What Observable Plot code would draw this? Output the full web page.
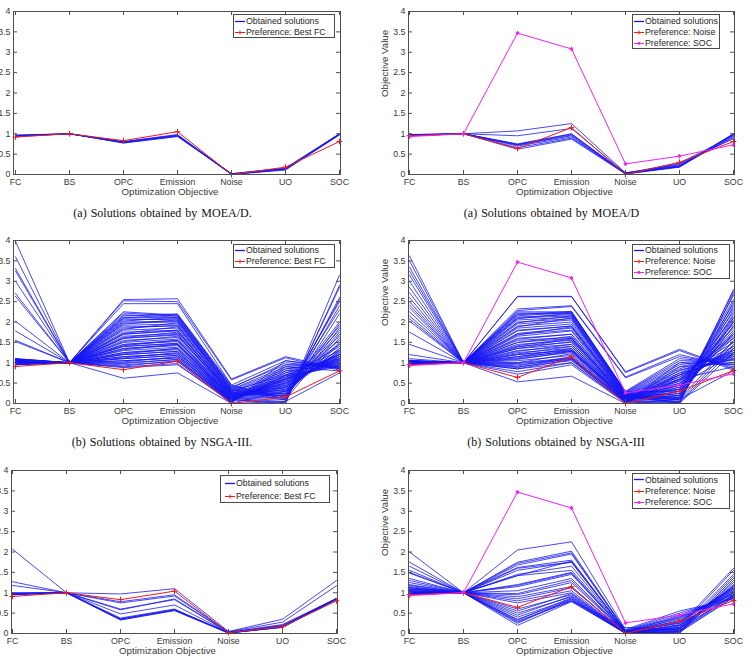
<!DOCTYPE html>
<html>
<head>
<meta charset="utf-8">
<script src="https://cdn.jsdelivr.net/npm/d3@7"></script>
<script src="https://cdn.jsdelivr.net/npm/@observablehq/plot@0.6"></script>
<style>
  html, body { margin: 0; padding: 0; background: #fff; }
  #fig { position: relative; width: 754px; height: 667px; overflow: hidden; background: #fff; }
  .panel { position: absolute; width: 377px; }
  .legend { position: absolute; background: #fff; border: 1px solid #4a4a4a; box-sizing: border-box;
            font: 8.8px "Liberation Sans", Arial, sans-serif; color: #262626; }
  .legend .row { position: absolute; height: 11px; display: flex; align-items: center; white-space: nowrap; }
  .legend svg { display: block; margin-right: 1px; overflow: visible; }
  .caption { position: absolute; font: 12px "Liberation Serif", "Times New Roman", serif; word-spacing: 1px;
             color: #111; white-space: nowrap; transform: translate(-50%, -50%); }
</style>
</head>
<body>
<div id="fig"></div>
<script>
// Objective axes and value ticks shared by all six parallel-coordinate panels
const objectives = ["FC", "BS", "OPC", "Emission", "Noise", "UO", "SOC"];
const yTicks = [0, 0.5, 1, 1.5, 2, 2.5, 3, 3.5, 4];

// Preference solutions (one value per objective)
const prefBestFcMoead = [0.92, 1.0, 0.83, 1.05, 0.0, 0.18, 0.81];
const prefBestFcNsga  = [0.91, 1.0, 0.83, 1.04, 0.0, 0.16, 0.80];
const prefBestFcThird = [0.91, 1.0, 0.83, 1.04, 0.02, 0.17, 0.80];
const prefNoise = [0.95, 1.0, 0.64, 1.15, 0.0, 0.30, 0.81];
const prefSoc   = [0.93, 1.0, 3.47, 3.08, 0.26, 0.45, 0.73];

// MOEA/D, best-FC run
const moeadFcSolutions = [
  [0.96, 1, 0.79, 0.96, 0.01, 0.13, 0.99],
  [0.95, 1, 0.80, 0.97, 0.00, 0.14, 1.00],
  [0.94, 1, 0.78, 0.94, 0.01, 0.12, 0.98],
  [0.97, 1, 0.81, 0.98, 0.02, 0.15, 0.99],
  [0.93, 1, 0.79, 0.95, 0.00, 0.11, 0.97],
  [0.95, 1, 0.77, 0.93, 0.02, 0.16, 1.00]
];

// MOEA/D, Noise / SOC preference run
const moeadNsSolutions = [
  [0.97, 1, 1.07, 1.25, 0.04, 0.22, 0.98],
  [0.98, 1, 0.95, 1.13, 0.03, 0.28, 0.95],
  [0.96, 1, 0.74, 0.99, 0.02, 0.19, 1.00],
  [0.97, 1, 0.73, 0.97, 0.03, 0.20, 0.98],
  [0.95, 1, 0.72, 0.95, 0.01, 0.18, 0.96],
  [0.96, 1, 0.70, 0.92, 0.02, 0.21, 0.93],
  [0.98, 1, 0.66, 0.89, 0.04, 0.24, 0.90],
  [0.95, 1, 0.62, 0.87, 0.01, 0.26, 0.88],
  [0.97, 1, 0.75, 1.00, 0.03, 0.19, 1.00]
];

// NSGA-III, best-FC run
const nsgaFcSolutions = [
  [3.98, 1, 1.20, 1.28, 0.10, 0.55, 1.10],
  [3.60, 1, 1.05, 1.12, 0.05, 0.70, 0.95],
  [3.31, 1, 1.35, 1.45, 0.12, 0.45, 1.20],
  [3.25, 1, 0.98, 1.08, 0.03, 0.80, 0.90],
  [3.00, 1, 1.45, 1.55, 0.15, 0.35, 1.35],
  [2.70, 1, 1.15, 1.22, 0.08, 0.60, 1.05],
  [2.63, 1, 1.60, 1.70, 0.20, 0.25, 1.50],
  [2.02, 1, 1.25, 1.35, 0.10, 0.50, 1.15],
  [1.78, 1, 1.70, 1.80, 0.22, 0.20, 1.60],
  [1.55, 1, 1.10, 1.18, 0.06, 0.65, 1.00],
  [1.52, 1, 1.40, 1.48, 0.14, 0.40, 1.25],
  [1.05, 1, 2.55, 2.57, 0.60, 1.15, 0.85],
  [1.08, 1, 2.52, 2.50, 0.58, 1.12, 0.82],
  [1.02, 1, 2.45, 2.45, 0.45, 1.05, 0.90],
  [1.10, 1, 2.25, 2.17, 0.40, 0.95, 0.95],
  [1.00, 1, 2.22, 2.15, 0.38, 1.00, 0.88],
  [1.06, 1, 2.18, 2.12, 0.35, 0.90, 1.00],
  [0.98, 1, 2.12, 2.10, 0.33, 0.85, 1.05],
  [1.04, 1, 2.08, 2.05, 0.30, 0.80, 1.10],
  [1.01, 1, 2.05, 2.08, 0.28, 0.75, 1.15],
  [1.07, 1, 2.00, 2.02, 0.30, 0.70, 1.20],
  [0.99, 1, 1.97, 2.00, 0.26, 0.65, 1.30],
  [1.03, 1, 1.92, 1.95, 0.25, 0.60, 1.40],
  [1.09, 1, 1.88, 1.90, 0.24, 0.55, 1.45],
  [0.97, 1, 1.85, 1.92, 0.22, 0.50, 1.55],
  [1.02, 1, 1.80, 1.85, 0.21, 0.45, 1.65],
  [1.05, 1, 1.75, 1.80, 0.20, 0.40, 1.80],
  [1.00, 1, 1.70, 1.78, 0.18, 0.35, 1.90],
  [1.08, 1, 1.65, 1.72, 0.17, 0.30, 2.00],
  [0.96, 1, 1.60, 1.68, 0.16, 0.25, 2.30],
  [1.03, 1, 1.55, 1.62, 0.15, 0.20, 2.50],
  [1.06, 1, 1.50, 1.58, 0.14, 0.15, 2.55],
  [0.98, 1, 1.45, 1.52, 0.13, 0.10, 2.60],
  [1.01, 1, 1.40, 1.47, 0.12, 0.05, 2.85],
  [1.04, 1, 1.35, 1.42, 0.10, 0.02, 2.90],
  [0.99, 1, 1.30, 1.38, 0.09, 0.00, 3.15],
  [1.07, 1, 1.25, 1.32, 0.08, 0.60, 1.20],
  [0.95, 1, 1.20, 1.28, 0.07, 0.70, 1.10],
  [1.02, 1, 1.15, 1.22, 0.06, 0.75, 1.05],
  [1.05, 1, 1.10, 1.18, 0.05, 0.85, 0.98],
  [0.97, 1, 1.05, 1.12, 0.04, 0.95, 0.92],
  [1.00, 1, 1.00, 1.08, 0.03, 1.05, 0.85],
  [1.08, 1, 0.95, 1.03, 0.02, 0.90, 0.80],
  [0.96, 1, 0.90, 0.98, 0.01, 0.30, 1.30],
  [1.03, 1, 0.62, 0.75, 0.00, 0.05, 0.75],
  [1.10, 1, 2.15, 2.20, 0.45, 0.10, 1.70],
  [1.02, 1, 2.10, 2.18, 0.42, 0.15, 1.85],
  [0.98, 1, 2.02, 2.12, 0.38, 0.12, 2.20],
  [1.06, 1, 1.95, 2.05, 0.35, 0.08, 2.40],
  [1.01, 1, 1.82, 1.98, 0.32, 0.22, 1.75],
  [1.04, 1, 1.72, 1.88, 0.28, 0.18, 1.95],
  [0.97, 1, 1.62, 1.75, 0.26, 0.28, 1.45],
  [1.09, 1, 1.52, 1.65, 0.24, 0.32, 1.35],
  [1.00, 1, 1.42, 1.55, 0.20, 0.38, 1.28],
  [1.05, 1, 1.32, 1.45, 0.18, 0.42, 1.22],
  [0.99, 1, 1.22, 1.35, 0.15, 0.48, 1.15],
  [1.03, 1, 1.12, 1.25, 0.12, 0.52, 1.08],
  [1.07, 1, 1.02, 1.15, 0.10, 0.58, 1.02],
  [0.98, 1, 0.92, 1.05, 0.08, 0.62, 0.95],
  [1.02, 1, 0.88, 0.95, 0.05, 0.68, 0.90]
];

// NSGA-III, Noise / SOC preference run
const nsgaNsSolutions = [
  [3.62, 1, 1.20, 1.30, 0.10, 0.20, 1.90],
  [3.50, 1, 1.10, 1.25, 0.08, 0.30, 1.70],
  [3.35, 1, 1.30, 1.40, 0.12, 0.15, 2.10],
  [3.25, 1, 1.05, 1.18, 0.06, 0.40, 1.50],
  [3.15, 1, 1.40, 1.50, 0.14, 0.10, 2.30],
  [3.00, 1, 0.98, 1.10, 0.05, 0.50, 1.40],
  [2.85, 1, 1.50, 1.60, 0.15, 0.05, 2.50],
  [2.72, 1, 1.15, 1.28, 0.09, 0.35, 1.80],
  [2.60, 1, 1.60, 1.70, 0.18, 0.00, 2.70],
  [2.50, 1, 0.90, 1.05, 0.04, 0.60, 1.30],
  [2.42, 1, 1.25, 1.35, 0.11, 0.25, 2.00],
  [2.35, 1, 1.70, 1.80, 0.20, 0.02, 2.80],
  [2.25, 1, 1.35, 1.45, 0.13, 0.45, 1.60],
  [2.15, 1, 0.85, 1.00, 0.03, 0.70, 1.20],
  [2.08, 1, 1.45, 1.55, 0.16, 0.12, 2.20],
  [2.02, 1, 1.00, 1.12, 0.07, 0.55, 1.35],
  [1.75, 1, 1.80, 1.90, 0.22, 0.08, 2.40],
  [1.45, 1, 1.20, 1.32, 0.10, 0.65, 1.25],
  [1.20, 1, 1.55, 1.62, 0.17, 0.18, 2.05],
  [1.10, 1, 0.95, 1.08, 0.05, 0.75, 1.10],
  [1.05, 1, 2.63, 2.63, 0.78, 1.33, 0.85],
  [1.02, 1, 2.62, 2.62, 0.76, 1.30, 0.82],
  [1.00, 1, 2.32, 2.40, 0.65, 1.20, 0.90],
  [1.04, 1, 2.28, 2.38, 0.63, 1.15, 0.95],
  [0.98, 1, 2.25, 2.25, 0.30, 1.10, 1.00],
  [1.03, 1, 2.22, 2.22, 0.28, 1.05, 1.05],
  [1.01, 1, 2.20, 2.20, 0.27, 1.00, 1.10],
  [0.99, 1, 2.15, 2.24, 0.25, 0.95, 1.15],
  [1.06, 1, 2.12, 2.18, 0.24, 0.90, 1.20],
  [1.00, 1, 2.10, 2.15, 0.22, 0.85, 1.25],
  [1.02, 1, 2.05, 2.12, 0.21, 0.80, 1.30],
  [0.97, 1, 2.00, 2.08, 0.20, 0.75, 1.40],
  [1.04, 1, 1.95, 2.05, 0.19, 0.70, 1.50],
  [1.01, 1, 1.90, 2.00, 0.18, 0.65, 1.60],
  [0.98, 1, 1.85, 1.95, 0.17, 0.60, 1.70],
  [1.03, 1, 1.78, 1.90, 0.16, 0.55, 1.85],
  [1.00, 1, 1.72, 1.85, 0.15, 0.50, 1.95],
  [1.05, 1, 1.65, 1.78, 0.14, 0.45, 2.10],
  [0.99, 1, 1.58, 1.70, 0.13, 0.40, 2.25],
  [1.02, 1, 1.50, 1.65, 0.12, 0.35, 2.35],
  [0.97, 1, 1.42, 1.60, 0.11, 0.30, 2.45],
  [1.04, 1, 1.35, 1.52, 0.10, 0.25, 2.55],
  [1.01, 1, 1.28, 1.45, 0.09, 0.20, 2.65],
  [0.98, 1, 1.22, 1.40, 0.08, 0.15, 2.75],
  [1.03, 1, 1.15, 1.35, 0.07, 0.10, 1.55],
  [1.00, 1, 1.08, 1.28, 0.06, 0.05, 1.45],
  [1.02, 1, 1.00, 1.22, 0.05, 0.02, 1.35],
  [0.99, 1, 0.92, 1.15, 0.04, 0.00, 1.25],
  [1.01, 1, 0.85, 1.08, 0.03, 0.90, 1.00],
  [1.03, 1, 0.78, 1.00, 0.02, 1.00, 0.95],
  [0.98, 1, 0.72, 0.95, 0.01, 0.60, 0.90],
  [1.00, 1, 0.53, 0.67, 0.00, 0.10, 0.80],
  [1.05, 1, 2.18, 2.26, 0.29, 0.30, 1.75],
  [0.96, 1, 2.08, 2.22, 0.26, 0.20, 1.90],
  [1.03, 1, 1.98, 2.15, 0.23, 0.12, 2.00],
  [1.00, 1, 1.88, 2.10, 0.20, 0.35, 2.15],
  [1.04, 1, 1.68, 1.88, 0.16, 0.58, 1.65],
  [0.99, 1, 1.38, 1.58, 0.12, 0.70, 1.15],
  [1.02, 1, 1.12, 1.30, 0.08, 0.82, 1.08],
  [0.97, 1, 0.88, 1.12, 0.05, 0.45, 1.20]
];

// Third algorithm, best-FC run
const thirdFcSolutions = [
  [0.98, 1, 0.97, 1.10, 0.05, 0.35, 1.30],
  [1.27, 1, 0.78, 0.95, 0.04, 0.28, 1.17],
  [2.07, 1, 0.60, 0.83, 0.03, 0.22, 0.86],
  [1.18, 1, 0.48, 0.70, 0.02, 0.20, 0.85],
  [0.96, 1, 0.75, 0.92, 0.03, 0.18, 0.84],
  [0.99, 1, 0.38, 0.60, 0.01, 0.16, 0.85],
  [0.97, 1, 0.36, 0.58, 0.02, 0.15, 0.84],
  [1.00, 1, 0.34, 0.57, 0.01, 0.17, 0.86],
  [0.95, 1, 0.35, 0.59, 0.02, 0.16, 0.83],
  [0.98, 1, 0.33, 0.56, 0.01, 0.15, 0.85],
  [0.96, 1, 0.58, 0.85, 0.02, 0.19, 0.86]
];

// Third algorithm, Noise / SOC preference run
const thirdNsSolutions = [
  [1.05, 1, 2.05, 2.25, 0.10, 0.55, 0.85],
  [1.10, 1, 1.75, 2.02, 0.08, 0.50, 0.90],
  [1.00, 1, 1.72, 1.98, 0.07, 0.45, 0.95],
  [1.15, 1, 1.68, 1.95, 0.06, 0.40, 1.00],
  [0.98, 1, 1.62, 1.80, 0.05, 0.35, 1.05],
  [1.20, 1, 1.55, 1.75, 0.05, 0.30, 1.10],
  [1.02, 1, 1.45, 1.65, 0.04, 0.25, 1.15],
  [2.00, 1, 1.42, 1.55, 0.04, 0.20, 1.60],
  [1.75, 1, 1.20, 1.50, 0.03, 0.15, 1.55],
  [1.65, 1, 1.15, 1.45, 0.03, 0.10, 1.45],
  [1.55, 1, 1.05, 1.35, 0.02, 0.05, 1.40],
  [1.50, 1, 0.95, 1.25, 0.02, 0.02, 1.35],
  [1.48, 1, 0.90, 1.15, 0.01, 0.00, 1.30],
  [1.35, 1, 0.80, 1.05, 0.01, 0.10, 1.25],
  [1.30, 1, 0.75, 1.00, 0.02, 0.12, 1.20],
  [1.25, 1, 0.60, 0.95, 0.01, 0.15, 1.15],
  [1.18, 1, 0.50, 0.90, 0.00, 0.18, 1.10],
  [1.12, 1, 0.40, 0.85, 0.01, 0.20, 1.05],
  [1.08, 1, 0.35, 0.82, 0.00, 0.22, 1.00],
  [1.03, 1, 0.30, 0.80, 0.01, 0.08, 0.95],
  [0.99, 1, 0.25, 0.85, 0.00, 0.05, 0.90],
  [0.97, 1, 0.20, 0.78, 0.01, 0.03, 0.88],
  [1.06, 1, 1.18, 1.48, 0.03, 0.28, 1.12],
  [1.01, 1, 0.98, 1.30, 0.02, 0.32, 1.08],
  [0.96, 1, 0.85, 1.12, 0.02, 0.38, 0.98],
  [1.09, 1, 1.42, 1.78, 0.04, 0.26, 0.92],
  [1.04, 1, 0.55, 0.98, 0.01, 0.14, 1.02],
  [0.98, 1, 0.33, 0.88, 0.00, 0.06, 1.18],
  [1.13, 1, 1.60, 1.75, 0.05, 0.42, 0.87],
  [1.00, 1, 0.45, 0.92, 0.02, 0.12, 0.95],
  [0.96, 1, 0.28, 0.80, 0.15, 0.08, 0.93]
];

// Text
const xLabel = "Optimization Objective";
const yLabel = "Objective Value";
const legendSolutions = "Obtained solutions";
const legendBestFc = "Preference: Best FC";
const legendNoise = "Preference: Noise";
const legendSoc = "Preference: SOC";
const captions = [
  "(a) Solutions obtained by MOEA/D.",
  "(a) Solutions obtained by MOEA/D",
  "(b) Solutions obtained by NSGA-III.",
  "(b) Solutions obtained by NSGA-III"
];

// Styling
const BLUE = "#1616f2", RED = "#f01a1a", MAGENTA = "#f022f0", AXIS = "#4f4f4f", TEXT = "#3a3a3a";
const FONT = '"Liberation Sans", Arial, Helvetica, sans-serif';

function toLong(rows, prefix) {
  const out = [];
  rows.forEach((r, i) => r.forEach((v, j) => out.push({id: prefix + i, obj: objectives[j], v})));
  return out;
}

const fcPref = (values) => [{values, color: RED, symbol: "plus", label: legendBestFc}];
const nsPref = [
  {values: prefNoise, color: RED, symbol: "plus", label: legendNoise},
  {values: prefSoc, color: MAGENTA, symbol: "asterisk", label: legendSoc}
];

const panels = [
  {col: 0, frame: {left: 13, right: 340, top: 11, bottom: 174}, solutions: moeadFcSolutions,
   prefs: fcPref(prefBestFcMoead), ylabel: false,
   legend: {left: 233, top: 14, width: 102, height: 24, pad: 2, rows: [7, 18.3]},
   caption: {text: captions[0], x: 162.5, y: 213}},
  {col: 377, frame: {left: 408, right: 734, top: 11, bottom: 174}, solutions: moeadNsSolutions,
   prefs: nsPref, ylabel: true,
   legend: {left: 632, top: 14, width: 88, height: 35, pad: 2, rows: [7, 18.3, 29.3]},
   caption: {text: captions[1], x: 551.5, y: 213}},
  {col: 0, frame: {left: 13, right: 340, top: 240, bottom: 403}, solutions: nsgaFcSolutions,
   prefs: fcPref(prefBestFcNsga), ylabel: false,
   legend: {left: 233, top: 244, width: 102, height: 24, pad: 2, rows: [6.4, 17.4]},
   caption: {text: captions[2], x: 162, y: 442}},
  {col: 377, frame: {left: 408, right: 734, top: 240, bottom: 403}, solutions: nsgaNsSolutions,
   prefs: nsPref, ylabel: true,
   legend: {left: 632, top: 244, width: 98, height: 35, pad: 2, rows: [6.4, 17.4, 28.4]},
   caption: {text: captions[3], x: 556, y: 442}},
  {col: 0, frame: {left: 11, right: 337, top: 470, bottom: 633}, solutions: thirdFcSolutions,
   prefs: fcPref(prefBestFcThird), ylabel: false,
   legend: {left: 220, top: 475, width: 110, height: 28, pad: 5, rows: [8, 21.3]},
   caption: null},
  {col: 377, frame: {left: 408, right: 734, top: 470, bottom: 633}, solutions: thirdNsSolutions,
   prefs: nsPref, ylabel: true,
   legend: {left: 632, top: 473, width: 98, height: 36, pad: 2, rows: [6.7, 18.4, 29.4]},
   caption: null}
];

const fig = document.getElementById("fig");

function drawPanel(p, k) {
  const fw = p.frame.right - p.frame.left;
  const fh = p.frame.bottom - p.frame.top;
  const mT = 11, mB = 42;
  const mL = p.frame.left - p.col;
  const mR = p.col + 377 - p.frame.right;
  const width = 377, height = mT + fh + mB;

  const marks = [
    Plot.line(toLong(p.solutions, "s"), {x: "obj", y: "v", z: "id", stroke: BLUE, strokeWidth: 1, strokeOpacity: 0.78})
  ];
  p.prefs.forEach((pref, i) => {
    const d = toLong([pref.values], "p" + i);
    marks.push(Plot.line(d, {x: "obj", y: "v", stroke: pref.color, strokeWidth: 1}));
    marks.push(Plot.dot(d, {x: "obj", y: "v", symbol: pref.symbol, r: 2, stroke: pref.color, strokeWidth: 1}));
  });
  marks.push(
    Plot.frame({stroke: AXIS}),
    // inward tick marks on all four sides
    Plot.tickY(yTicks, {y: d => d, insetRight: fw - 4, stroke: AXIS}),
    Plot.tickY(yTicks, {y: d => d, insetLeft: fw - 4, stroke: AXIS}),
    Plot.tickX(objectives, {x: d => d, insetBottom: fh - 4, stroke: AXIS}),
    Plot.tickX(objectives, {x: d => d, insetTop: fh - 4, stroke: AXIS}),
    Plot.text([xLabel], {text: d => d, frameAnchor: "bottom", dy: 20, dx: -7, fontSize: 9.7, fill: TEXT})
  );
  if (p.ylabel) {
    marks.push(Plot.text([yLabel], {text: d => d, frameAnchor: "left", dx: -(mL - 7), dy: 4, rotate: -90, fontSize: 9.7, fill: TEXT}));
  }

  const chart = Plot.plot({
    width, height, marginTop: mT, marginBottom: mB, marginLeft: mL, marginRight: mR,
    style: {fontFamily: FONT, fontSize: "8.8px", color: TEXT, background: "transparent", overflow: "visible"},
    x: {type: "point", domain: objectives, padding: 0, tickSize: 0, tickPadding: 4, label: null},
    y: {domain: [0, 4], ticks: yTicks, tickSize: 0, tickPadding: 3, tickFormat: d => String(d), label: null},
    marks
  });

  const holder = document.createElement("div");
  holder.className = "panel";
  holder.style.left = p.col + "px";
  holder.style.top = (p.frame.top - mT) + "px";
  holder.appendChild(chart);
  fig.appendChild(holder);

  // legend box
  const lg = p.legend;
  const box = document.createElement("div");
  box.className = "legend";
  Object.assign(box.style, {left: lg.left + "px", top: lg.top + "px", width: lg.width + "px", height: lg.height + "px"});
  const entries = [{label: legendSolutions, color: BLUE, symbol: null}].concat(p.prefs);
  entries.forEach((e, i) => {
    const row = document.createElement("div");
    row.className = "row";
    row.style.left = (lg.pad - 1) + "px";
    row.style.top = (lg.rows[i] - 1 - 5.5) + "px";
    let sample = `<svg width="10" height="11"><line x1="0" x2="10" y1="5.5" y2="5.5" stroke="${e.color}" stroke-width="${e.symbol ? 1 : 1.3}"/>`;
    if (e.symbol === "plus") sample += `<path d="M5,3.5V7.5M3,5.5H7" stroke="${e.color}" stroke-width="1"/>`;
    if (e.symbol === "asterisk") sample += `<circle cx="5" cy="5.5" r="1.4" fill="${e.color}"/>`;
    sample += `</svg>`;
    row.innerHTML = sample + `<span>${e.label}</span>`;
    box.appendChild(row);
  });
  fig.appendChild(box);

  if (p.caption) {
    const c = document.createElement("div");
    c.className = "caption";
    c.style.left = p.caption.x + "px";
    c.style.top = p.caption.y + "px";
    c.textContent = p.caption.text;
    fig.appendChild(c);
  }
}

panels.forEach(drawPanel);
</script>
</body>
</html>
